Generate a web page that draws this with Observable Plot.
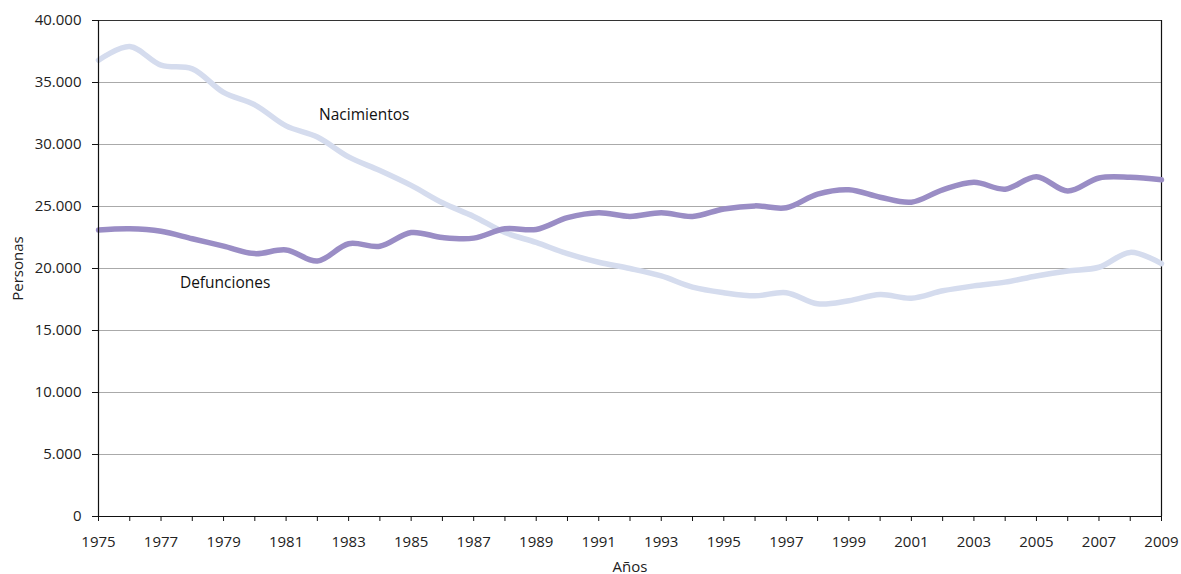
<!DOCTYPE html>
<html>
<head>
<meta charset="utf-8">
<script src="https://cdn.jsdelivr.net/npm/d3@7"></script>
<script src="https://cdn.jsdelivr.net/npm/@observablehq/plot@0.6"></script>
<style>
  html, body { margin: 0; padding: 0; background: #fff; }
  #chart svg { display: block; }
</style>
</head>
<body>
<div id="chart"></div>
<script>
const years = d3.range(1975, 2010);
const nacimientos = [36800, 37900, 36400, 36100, 34200, 33200, 31500, 30600, 29000, 27900,
  26700, 25300, 24200, 22900, 22100, 21200, 20500, 20000, 19400, 18500,
  18050, 17800, 18050, 17150, 17400, 17900, 17600, 18200, 18600, 18900,
  19400, 19800, 20100, 21300, 20400];
const defunciones = [23100, 23200, 23000, 22400, 21800, 21200, 21500, 20600, 22000, 21800,
  22900, 22500, 22450, 23200, 23150, 24100, 24500, 24200, 24500, 24200,
  24800, 25050, 24900, 26000, 26350, 25750, 25350, 26350, 26950, 26400,
  27400, 26250, 27300, 27350, 27150];
const yTicks = [0, 5000, 10000, 15000, 20000, 25000, 30000, 35000, 40000];
const seriesLabels = [
  {name: "Nacimientos", year: 1983.5, value: 32350},
  {name: "Defunciones", year: 1979.05, value: 18800}
];

const nac = years.map((y, i) => ({year: y, value: nacimientos[i]}));
const def = years.map((y, i) => ({year: y, value: defunciones[i]}));
const fmt = d => d3.format(",")(d).replace(/,/g, ".");
const font = "'Open Sans', sans-serif";

const chart = Plot.plot({
  width: 1181,
  height: 574,
  marginLeft: 98,
  marginRight: 20,
  marginTop: 20,
  marginBottom: 58,
  style: {fontFamily: font, fontSize: "15px", color: "#222", background: "#fff"},
  x: {domain: [1975, 2009]},
  y: {domain: [0, 40000]},
  marks: [
    Plot.ruleY(yTicks.filter(d => d > 0 && d < 40000), {stroke: "#aaa", strokeWidth: 1.2}),
    Plot.ruleY([40000], {stroke: "#333", strokeWidth: 1}),
    Plot.ruleX([2009], {stroke: "#111", strokeWidth: 1.2}),
    Plot.line(nac, {x: "year", y: "value", stroke: "#d5dcee", strokeWidth: 5.5, curve: "catmull-rom"}),
    Plot.line(def, {x: "year", y: "value", stroke: "#9a8dc5", strokeWidth: 5.5, curve: "catmull-rom"}),
    Plot.ruleX([1975], {stroke: "#111", strokeWidth: 1.2}),
    Plot.ruleY([0], {stroke: "#111", strokeWidth: 1.2}),
    Plot.axisX({ticks: years, tickFormat: d => (d % 2 === 1 ? String(d) : ""), tickSize: 5, tickPadding: 15, label: null, fontSize: 15, stroke: "#111"}),
    Plot.axisY({ticks: yTicks, tickFormat: fmt, tickSize: 6, tickPadding: 11, label: null, fontSize: 15, stroke: "#111"}),
    Plot.text(["Años"], {frameAnchor: "bottom", dy: 55, fontSize: 15, fill: "#222"}),
    Plot.text(["Personas"], {frameAnchor: "left", dx: -80, rotate: -90, textAnchor: "middle", fontSize: 15, fill: "#222"}),
    Plot.text(seriesLabels, {x: "year", y: "value", text: "name", fontSize: 15.5, fill: "#111"})
  ]
});
document.getElementById("chart").append(chart);
</script>
</body>
</html>
